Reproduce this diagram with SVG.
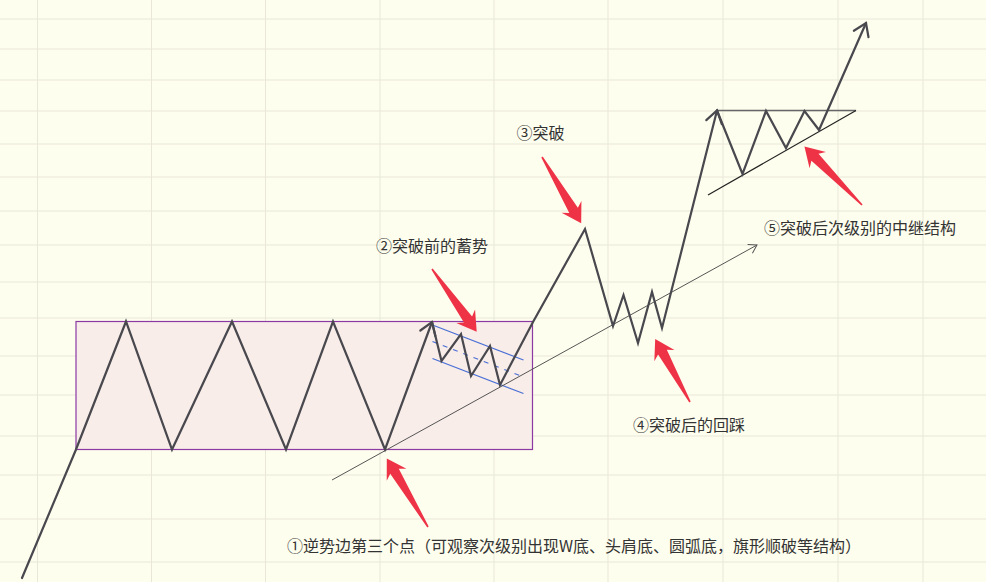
<svg xmlns="http://www.w3.org/2000/svg" width="986" height="582" viewBox="0 0 986 582">
<defs>
<style>
.grid line{stroke:#e9e8d8;stroke-width:1}
.zig{fill:none;stroke:#48484e;stroke-width:2.2;stroke-linejoin:miter;stroke-linecap:round}
.thin{fill:none;stroke:#555;stroke-width:1}
.chan{fill:none;stroke:#4a6fd6;stroke-width:1.2}
.red{fill:#ef3347}
.lbl{font-family:"Noto Sans CJK SC","Liberation Sans",sans-serif;font-size:16px;fill:#333}
</style>
<marker id="ah" markerUnits="userSpaceOnUse" markerWidth="30" markerHeight="30" refX="0" refY="0" viewBox="-15 -15 30 30" orient="auto">
<path d="M-12,-8 L0,0 L-12,8" fill="none" stroke="#48484e" stroke-width="2.2" stroke-linecap="round" stroke-linejoin="miter"/>
</marker>
<marker id="ahs" markerUnits="userSpaceOnUse" markerWidth="20" markerHeight="20" refX="0" refY="0" viewBox="-10 -10 20 20" orient="auto">
<path d="M-8,-5 L0,0 L-8,5" fill="none" stroke="#555" stroke-width="1"/>
</marker>
</defs>
<rect x="0" y="0" width="986" height="582" fill="#fefeee"/>
<g class="grid" id="grid">
<line x1="37.5" y1="0" x2="37.5" y2="582"/>
<line x1="151.5" y1="0" x2="151.5" y2="582"/>
<line x1="265.5" y1="0" x2="265.5" y2="582"/>
<line x1="380" y1="0" x2="380" y2="582"/>
<line x1="494" y1="0" x2="494" y2="582"/>
<line x1="608" y1="0" x2="608" y2="582"/>
<line x1="723" y1="0" x2="723" y2="582"/>
<line x1="838" y1="0" x2="838" y2="582"/>
<line x1="923" y1="0" x2="923" y2="582"/>
<line x1="0" y1="19" x2="986" y2="19"/>
<line x1="0" y1="49" x2="986" y2="49"/>
<line x1="0" y1="80" x2="986" y2="80"/>
<line x1="0" y1="111" x2="986" y2="111"/>
<line x1="0" y1="144" x2="986" y2="144"/>
<line x1="0" y1="177" x2="986" y2="177"/>
<line x1="0" y1="211" x2="986" y2="211"/>
<line x1="0" y1="245" x2="986" y2="245"/>
<line x1="0" y1="282" x2="986" y2="282"/>
<line x1="0" y1="318" x2="986" y2="318"/>
<line x1="0" y1="356" x2="986" y2="356"/>
<line x1="0" y1="395" x2="986" y2="395"/>
<line x1="0" y1="436" x2="986" y2="436"/>
<line x1="0" y1="475" x2="986" y2="475"/>
<line x1="0" y1="519" x2="986" y2="519"/>
<line x1="0" y1="562" x2="986" y2="562"/>
</g>
<g id="range-box">
<rect x="76" y="321.5" width="456.5" height="128" fill="#f8ede8" stroke="#8b3aa3" stroke-width="1.2"/>
</g>
<g id="flag-channel">
<line class="chan" x1="432.5" y1="325" x2="523.5" y2="360"/>
<line class="chan" x1="432.5" y1="358.5" x2="523.5" y2="393.5"/>
<line class="chan" x1="432.5" y1="341.5" x2="521" y2="376" stroke-dasharray="5,6"/>
</g>
<g id="triangle">
<line x1="717" y1="110.5" x2="856" y2="110.5" stroke="#666" stroke-width="1.6"/>
<line x1="708" y1="195" x2="856" y2="110.5" stroke="#222" stroke-width="1.2"/>
</g>
<g id="connectors">
<line class="thin" x1="332" y1="480" x2="757" y2="245" marker-end="url(#ahs)"/>
<polyline class="zig" points="22,578 76,449.5 126,321.5 172,449.5 232,321.5 286,449.5 333,321.5 385,449.5 432,322" marker-end="url(#ah)"/>
<polyline class="zig" points="432,322 441.5,361 461,334 471,376 490,346 500,385 533,322 585,229 613,326 623.5,295 638,343 652,292 662,328 717,110.5" marker-end="url(#ah)"/>
<polyline class="zig" points="717,110.5 742.5,174 766,111 786,148 804.5,111 819,130 866,23" marker-end="url(#ah)"/>
</g>
<g id="red-arrows">
<polygon class="red" id="arrow1" transform="translate(428,527) rotate(-121)" points="0,-0.8 65,-5 61,-11.5 80,0 61,11.5 65,5 0,0.8"/>
<polygon class="red" id="arrow2" transform="translate(432,269) rotate(54.5)" points="0,-0.8 62,-5 58,-11.5 77,0 58,11.5 62,5 0,0.8"/>
<polygon class="red" id="arrow3" transform="translate(542,157) rotate(59.4)" points="0,-0.8 62,-5 58,-11.5 77,0 58,11.5 62,5 0,0.8"/>
<polygon class="red" id="arrow4" transform="translate(690,402) rotate(-118.9)" points="0,-0.8 57,-5 53,-11.5 72,0 53,11.5 57,5 0,0.8"/>
<polygon class="red" id="arrow5" transform="translate(862,205) rotate(-134.6)" points="0,-0.8 67,-5 63,-11.5 82,0 63,11.5 67,5 0,0.8"/>
</g>
<g id="labels">
<text class="lbl" id="label2" x="376" y="252">②突破前的蓄势</text>
<text class="lbl" id="label3" x="516.5" y="139">③突破</text>
<text class="lbl" id="label4" x="633" y="431">④突破后的回踩</text>
<text class="lbl" id="label5" x="764" y="234">⑤突破后次级别的中继结构</text>
<text class="lbl" id="label1" x="287" y="552">①逆势边第三个点（可观察次级别出现W底、头肩底、圆弧底，旗形顺破等结构）</text>
</g>
</svg>
